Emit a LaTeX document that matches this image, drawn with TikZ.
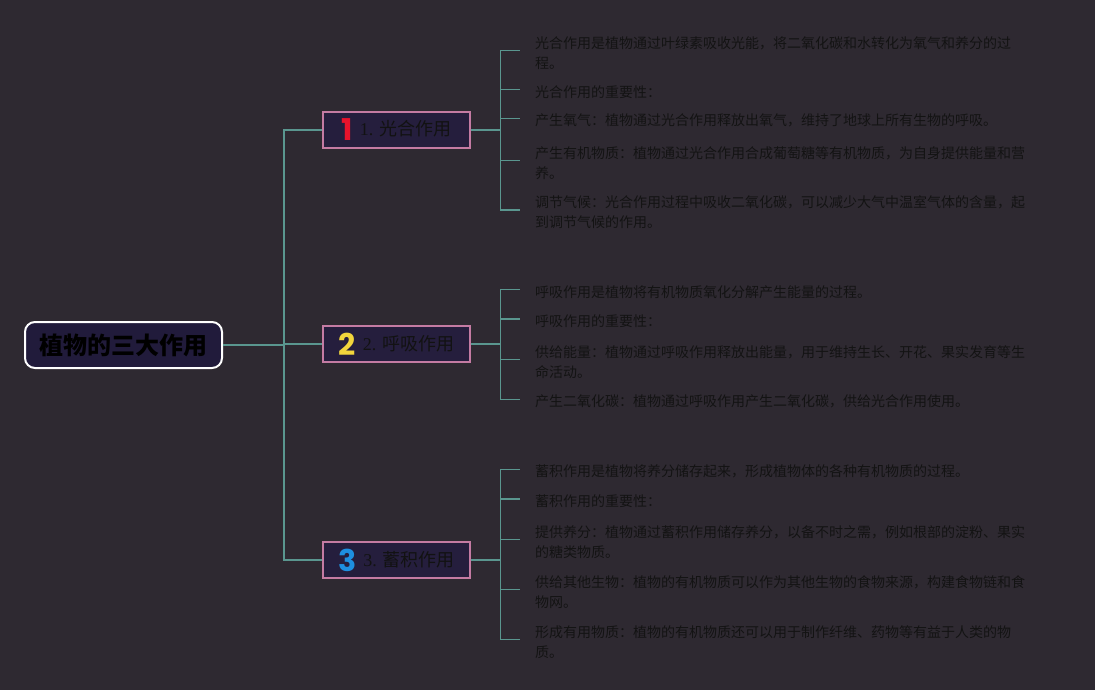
\documentclass[tikz,border=0pt]{standalone}
\usepackage{fontspec}
\setmainfont{Liberation Serif}
\newfontfamily\cjk{Noto Sans CJK SC}
\newfontfamily\badgefont{Poppins}
\definecolor{bgc}{HTML}{2E2931}
\definecolor{rootf}{HTML}{211B3B}
\definecolor{branchf}{HTML}{251E3D}
\definecolor{pinkb}{HTML}{C47BA3}
\definecolor{teal1}{HTML}{5A968F}
\definecolor{leafc}{HTML}{131313}
\definecolor{labc}{HTML}{121212}
\definecolor{badger}{HTML}{E8132C}
\definecolor{badgey}{HTML}{F2D53C}
\definecolor{badgeb}{HTML}{1E8FE0}
\begin{document}
\begin{tikzpicture}[x=1pt,y=-1pt,
  conn/.style={draw=teal1, line width=1.3pt},
  leaf/.style={anchor=west, inner xsep=15pt, inner ysep=0pt, align=left,
    font=\cjk\fontsize{14}{20}\selectfont, text=leafc},
  branch/.style={draw=pinkb, fill=branchf, line width=1.5pt, minimum width=147pt,
    minimum height=36pt, inner sep=0pt, font=\fontsize{18}{20}\selectfont, text=labc},
  rootbox/.style={draw=white, fill=rootf, line width=2pt, rounded corners=10pt,
    minimum width=197pt, minimum height=46pt, inner sep=0pt,
    font=\cjk\bfseries\fontsize{24}{26}\selectfont, text=black}]
\useasboundingbox[fill=bgc] (0,0) rectangle (1095,690);

\node[rootbox] (root) at (123.5,345) {植物的三大作用};

\node[branch] (b1) at (396.5,130) {\raisebox{-5pt}{\badgefont\bfseries\fontsize{30}{30}\selectfont\color{badger}1}\hspace{7pt}1. {\cjk 光合作用}};
\node[branch] (b2) at (396.5,344) {\raisebox{-5pt}{\badgefont\bfseries\fontsize{30}{30}\selectfont\color{badgey}2}\hspace{7pt}2. {\cjk 呼吸作用}};
\node[branch] (b3) at (396.5,560) {\raisebox{-5pt}{\badgefont\bfseries\fontsize{30}{30}\selectfont\color{badgeb}3}\hspace{7pt}3. {\cjk 蓄积作用}};

% section 1
\node[leaf] (l1a) at (520,52.7) {光合作用是植物通过叶绿素吸收光能，将二氧化碳和水转化为氧气和养分的过\\程。};
\node[leaf] (l1b) at (520,91.7) {光合作用的重要性：};
\node[leaf] (l1c) at (520,120.7) {产生氧气：植物通过光合作用释放出氧气，维持了地球上所有生物的呼吸。};
\node[leaf] (l1d) at (520,162.7) {产生有机物质：植物通过光合作用合成葡萄糖等有机物质，为自身提供能量和营\\养。};
\node[leaf] (l1e) at (520,212) {调节气候：光合作用过程中吸收二氧化碳，可以减少大气中温室气体的含量，起\\到调节气候的作用。};
% section 2
\node[leaf] (l2a) at (520,291.7) {呼吸作用是植物将有机物质氧化分解产生能量的过程。};
\node[leaf] (l2b) at (520,321) {呼吸作用的重要性：};
\node[leaf] (l2c) at (520,361.7) {供给能量：植物通过呼吸作用释放出能量，用于维持生长、开花、果实发育等生\\命活动。};
\node[leaf] (l2d) at (520,401.7) {产生二氧化碳：植物通过呼吸作用产生二氧化碳，供给光合作用使用。};
% section 3
\node[leaf] (l3a) at (520,471.7) {蓄积作用是植物将养分储存起来，形成植物体的各种有机物质的过程。};
\node[leaf] (l3b) at (520,501) {蓄积作用的重要性：};
\node[leaf] (l3c) at (520,541.7) {提供养分：植物通过蓄积作用储存养分，以备不时之需，例如根部的淀粉、果实\\的糖类物质。};
\node[leaf] (l3d) at (520,591.7) {供给其他生物：植物的有机物质可以作为其他生物的食物来源，构建食物链和食\\物网。};
\node[leaf] (l3e) at (520,641.7) {形成有用物质：植物的有机物质还可以用于制作纤维、药物等有益于人类的物\\质。};

% trunk
\foreach \b in {b1,b2,b3}
  \draw[conn] (root.east) -- ++(61,0) |- (\b.west);
% brackets
\foreach \l in {l1a,l1b,l1c,l1d,l1e}
  \draw[conn] (b1.east) -- ++(30,0) |- ([yshift=2pt]\l.west);
\foreach \l in {l2a,l2b,l2c,l2d}
  \draw[conn] (b2.east) -- ++(30,0) |- ([yshift=2pt]\l.west);
\foreach \l in {l3a,l3b,l3c,l3d,l3e}
  \draw[conn] (b3.east) -- ++(30,0) |- ([yshift=2pt]\l.west);
\end{tikzpicture}
\end{document}
